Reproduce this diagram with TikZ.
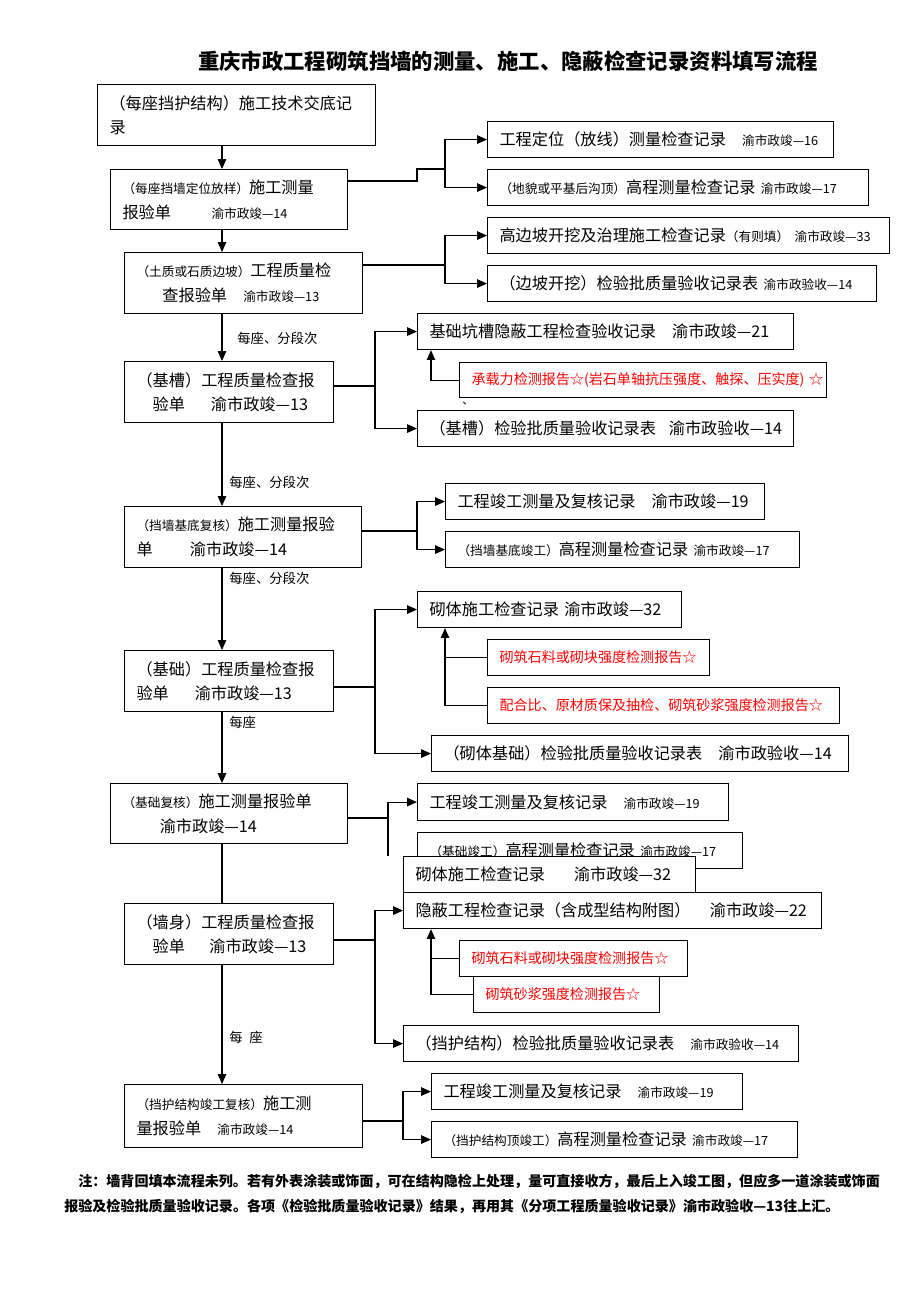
\documentclass[tikz,border=0pt]{standalone}
\usepackage{fontspec}
\setmainfont{Noto Sans CJK SC}
\usetikzlibrary{arrows.meta}
\newcommand{\smtxt}{\fontsize{9}{17.5}\selectfont}
\begin{document}
\begin{tikzpicture}[x=0.025cm, y=-0.025cm,
    box/.style={draw, line width=0.8pt, fill=white, anchor=north west, inner xsep=0.3cm, inner ysep=0pt, align=left, font=\fontsize{11.5}{17.5}\selectfont},
    bx/.style 2 args={text width=#1*0.025cm-0.6cm, minimum height=#2*0.025cm},
    redbox/.style={box, text=red, font=\fontsize{10}{17.5}\selectfont},
    flow/.style={line width=0.8pt, -{Triangle[length=7pt,width=6pt]}},
    lnk/.style={line width=0.8pt},
    lbl/.style={anchor=west, inner sep=0pt, font=\fontsize{9.5}{12}\selectfont},
    note/.style={anchor=west, inner sep=0pt, font=\fontsize{10}{14}\selectfont\bfseries}]
\useasboundingbox (0,0) rectangle (920,1302);
\node[font=\fontsize{15.2}{18}\selectfont\bfseries] (title) at (508,61) {重庆市政工程砌筑挡墙的测量、施工、隐蔽检查记录资料填写流程};
\coordinate (sp) at (222,0);

\node[box, bx={278}{61}] (b1) at (97,84) {（每座挡护结构）施工技术交底记\\录};
\node[box, bx={237}{60}] (b2) at (110,169) {{\smtxt（每座挡墙定位放样）}施工测量\\报验单\hspace{2.5em}{\smtxt 渝市政竣—14}};
\node[box, bx={238}{61}] (b3) at (124,252) {{\smtxt（土质或石质边坡）}工程质量检\\\hspace*{1.6em}查报验单\quad{\smtxt 渝市政竣—13}};
\node[box, bx={209}{61}] (b4) at (124,361) {（基槽）工程质量检查报\\\hspace*{1em}验单\hspace{1.6em}渝市政竣—13};
\node[box, bx={237}{61}] (b5) at (124,506) {{\smtxt（挡墙基底复核）}施工测量报验\\单\hspace{2.3em}渝市政竣—14};
\node[box, bx={209}{61}] (b6) at (124,650) {（基础）工程质量检查报\\验单\hspace{1.6em}渝市政竣—13};
\node[box, bx={237}{60}] (b7) at (110,783) {{\smtxt（基础复核）}施工测量报验单\\\hspace*{2.3em}渝市政竣—14};
\node[box, bx={209}{61}] (b8) at (124,903) {（墙身）工程质量检查报\\\hspace*{1em}验单\hspace{1.5em}渝市政竣—13};
\node[box, bx={238}{63}] (b9) at (124,1084) {{\smtxt（挡护结构竣工复核）}施工测\\量报验单\quad{\smtxt 渝市政竣—14}};

\node[box, bx={346}{36}] (r1a) at (487,121) {工程定位（放线）测量检查记录\quad{\smtxt 渝市政竣—16}};
\node[box, bx={381}{36}] (r1b) at (487,169) {{\smtxt（地貌或平基后沟顶）}高程测量检查记录~{\smtxt 渝市政竣—17}};
\node[box, bx={402}{36}] (r2a) at (487,217) {高边坡开挖及治理施工检查记录{\smtxt（有则填）~渝市政竣—33}};
\node[box, bx={389}{36}] (r2b) at (487,265) {（边坡开挖）检验批质量验收记录表~{\smtxt 渝市政验收—14}};
\node[box, bx={376}{36}] (r3a) at (417,313) {基础坑槽隐蔽工程检查验收记录\quad 渝市政竣—21};
\node[redbox, bx={367}{35}] (r3s) at (459,362) {承载力检测报告☆(岩石单轴抗压强度、触探、压实度)~☆};
\node[box, bx={376}{36}] (r3b) at (417,410) {\mbox{（基槽）检验批质量验收记录表\hspace{0.8em}渝市政验收—14}};
\node[lbl, font=\fontsize{8}{10}\selectfont] (dot) at (462,404) {、};
\node[box, bx={319}{36}] (r4a) at (445,483) {工程竣工测量及复核记录\quad 渝市政竣—19};
\node[box, bx={354}{36}] (r4b) at (445,531) {{\smtxt（挡墙基底竣工）}高程测量检查记录~{\smtxt 渝市政竣—17}};
\node[box, bx={264}{36}] (r5a) at (417,591) {砌体施工检查记录~渝市政竣—32};
\node[redbox, bx={222}{36}] (r5s1) at (487,639) {砌筑石料或砌块强度检测报告☆};
\node[redbox, bx={352}{36}] (r5s2) at (487,687) {配合比、原材质保及抽检、砌筑砂浆强度检测报告☆};
\node[box, bx={417}{36}] (r5b) at (431,735) {（砌体基础）检验批质量验收记录表\quad 渝市政验收—14};
\node[box, bx={311}{37}] (r6a) at (417,783) {工程竣工测量及复核记录\quad{\smtxt 渝市政竣—19}};
\node[box, bx={325}{36}] (r6b) at (417,832) {{\smtxt（基础竣工）}高程测量检查记录~{\smtxt 渝市政竣—17}};
\node[box, bx={292}{36}] (r7a) at (403,856) {砌体施工检查记录\hspace{1.8em}渝市政竣—32};
\node[box, bx={418}{36}] (r7b) at (403,892) {\mbox{隐蔽工程检查记录（含成型结构附图）\hspace{1.2em}渝市政竣—22}};
\node[redbox, bx={228}{36}] (r7s1) at (459,940) {砌筑石料或砌块强度检测报告☆};
\node[redbox, bx={186}{36}] (r7s2) at (473,976) {砌筑砂浆强度检测报告☆};
\node[box, bx={395}{36}] (r7c) at (403,1025) {（挡护结构）检验批质量验收记录表\quad{\smtxt 渝市政验收—14}};
\node[box, bx={311}{36}] (r8a) at (431,1073) {工程竣工测量及复核记录\quad{\smtxt 渝市政竣—19}};
\node[box, bx={366}{36}] (r8b) at (431,1121) {{\smtxt（挡护结构顶竣工）}高程测量检查记录~{\smtxt 渝市政竣—17}};

\node[lbl] (m1) at (237,338) {每座、分段次};
\node[lbl] (m2) at (229,482) {每座、分段次};
\node[lbl] (m3) at (229,578) {每座、分段次};
\node[lbl] (m4) at (229,722) {每座};
\node[lbl] (m5) at (229,1037) {每\hspace{0.5em}座};

\draw[flow] (b1.south -| sp) -- (b2.north -| sp);
\draw[flow] (b2.south -| sp) -- (b3.north -| sp);
\draw[flow] (b3.south -| sp) -- (b4.north -| sp);
\draw[flow] (b4.south -| sp) -- (b5.north -| sp);
\draw[flow] (b5.south -| sp) -- (b6.north -| sp);
\draw[flow] (b6.south -| sp) -- (b7.north -| sp);
\draw[lnk] (b7.south -| sp) -- (b8.north -| sp);
\draw[flow] (b8.south -| sp) -- (b9.north -| sp);

\coordinate (j2) at (417,181);
\coordinate (k2) at (445,169);
\draw[lnk] (b2.east |- j2) -- (j2) |- (k2);
\draw[flow] (k2) |- (r1a.west);
\draw[flow] (k2) |- (r1b.west);

\coordinate (k3) at (445,265);
\draw[lnk] (b3.east |- k3) -- (k3);
\draw[flow] (k3) |- (r2a.west);
\draw[flow] (k3) |- (r2b.west);

\coordinate (k4) at (375,386);
\coordinate (q4) at (431,0);
\draw[lnk] (b4.east |- k4) -- (k4);
\draw[flow] (k4) |- (r3a.west);
\draw[flow] (k4) |- (r3b.west);
\draw[flow] (r3s.west) -| (r3a.south -| q4);

\coordinate (k5) at (417,531);
\draw[lnk] (b5.east |- k5) -- (k5);
\draw[flow] (k5) |- (r4a.west);
\draw[flow] (k5) |- (r4b.west);

\coordinate (k6) at (375,687);
\coordinate (q6) at (445,0);
\draw[lnk] (b6.east |- k6) -- (k6);
\draw[flow] (k6) |- (r5a.west);
\draw[flow] (k6) |- (r5b.west);
\draw[flow] (r5s2.west) -| (r5a.south -| q6);
\draw[lnk] (r5s1.west) -- (r5s1.west -| q6);

\coordinate (k7) at (388,818);
\draw[lnk] (b7.east |- k7) -- (k7);
\draw[flow] (k7) |- (r6a.west);
\draw[lnk] (k7) -- (k7 |- r7a.north);

\coordinate (k8) at (375,940);
\coordinate (q8) at (431,0);
\draw[lnk] (b8.east |- k8) -- (k8);
\draw[flow] (k8) |- (r7b.west);
\draw[flow] (k8) |- (r7c.west);
\draw[flow] (r7s2.west) -| (r7b.south -| q8);
\draw[lnk] (r7s1.west) -- (r7s1.west -| q8);

\coordinate (k9) at (403,1121);
\draw[lnk] (b9.east |- k9) -- (k9);
\draw[flow] (k9) |- (r8a.west);
\draw[flow] (k9) |- (r8b.west);

\node[note] (n1) at (78,1181) {注：墙背回填本流程未列。若有外表涂装或饰面，可在结构隐检上处理，量可直接收方，最后上入竣工图，但应多一道涂装或饰面};
\node[note] (n2) at (64,1206) {报验及检验批质量验收记录。各项《检验批质量验收记录》结果，再用其《分项工程质量验收记录》渝市政验收—13往上汇。};
\end{tikzpicture}
\end{document}
